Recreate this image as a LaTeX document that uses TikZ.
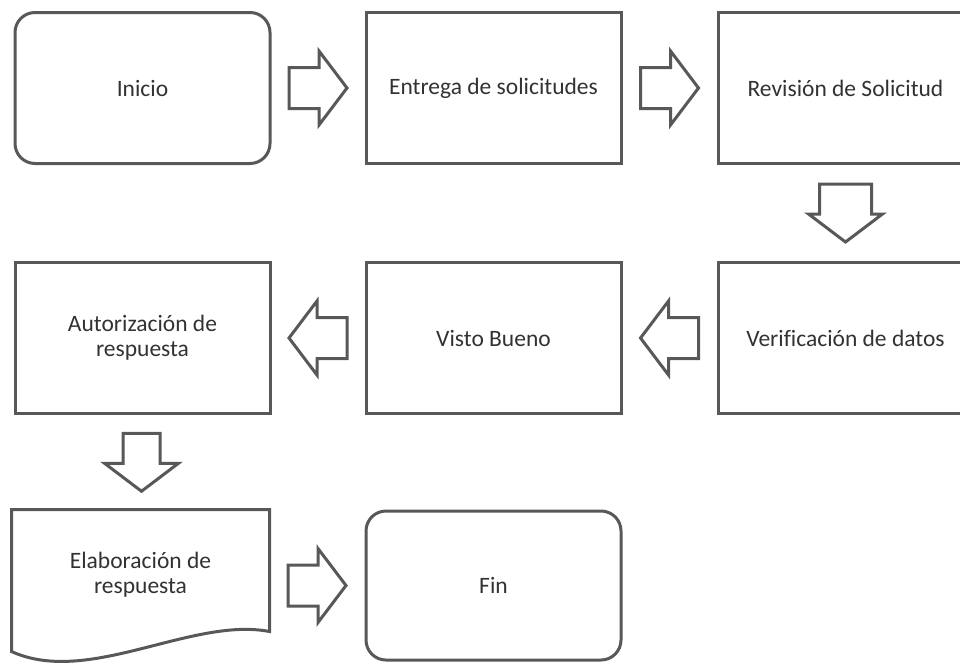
\documentclass[tikz,border=0pt]{standalone}
\usepackage{fontspec}
\setmainfont[Ligatures=NoCommon]{Carlito}
\usetikzlibrary{calc}
\definecolor{edge}{RGB}{88,88,88}
\definecolor{txt}{RGB}{50,50,50}
\tikzset{
  box/.style={draw=edge, line width=3pt, minimum width=255pt, minimum height=151pt,
    inner sep=0pt, align=center, text=txt, font=\fontsize{23.5}{25}\selectfont},
  roundbox/.style={box, rounded corners=20pt},
  plain/.style={box, draw=none},
  arrowline/.style={draw=edge, line width=3pt, line join=miter, fill=white},
  pics/barrow/.style={code={
    \draw[arrowline] (-29,-#1) -- (1,-#1) -- (1,-37) -- (29,0) -- (1,37) -- (1,#1) -- (-29,#1) -- cycle;
  }}
}
\begin{document}
\begin{tikzpicture}[x=1pt,y=-1pt]
\useasboundingbox (0,0) rectangle (960,662);
\clip (0,0) rectangle (960,662);
% row 1
\node[roundbox] (inicio) at (142.5,88) {Inicio};
\node[box] (entrega) at (493.5,88) {Entrega de solicitudes};
\node[box] (revision) at (845.5,88) {Revisión de Solicitud};
% row 2
\node[box] (verif) at (845.5,338) {Verificación de datos};
\node[box] (visto) at (493.5,338) {Visto Bueno};
\node[box] (autor) at (142.5,338) {Autorización de\\respuesta};
% row 3
\node[plain, minimum height=128pt] (elab) at (140.5,575) {Elaboración de\\respuesta};
\draw[draw=edge, line width=3pt, line join=miter]
  (elab.north west) -- (elab.north east) -- ($(elab.south east)+(0,-9)$)
  .. controls ($(elab.south east)+(-78,-24)$) and ($(elab.south west)+(77,46)$) ..
  ($(elab.south west)+(0,11)$) -- cycle;
\node[roundbox, minimum height=149pt] (fin) at (493.5,585.5) {Fin};
% block arrows
\pic at ($(inicio.east)!0.5!(entrega.west)$) {barrow=20.5};
\pic at ($(entrega.east)!0.5!(revision.west)$) {barrow=20.5};
\pic[rotate=-90] at ($(revision.south)!0.5!(verif.north)$) {barrow=26};
\pic[rotate=180] at ($(visto.east)!0.5!(verif.west)$) {barrow=20.5};
\pic[rotate=180] at ($(autor.east)!0.5!(visto.west)$) {barrow=20.5};
\pic[rotate=-90] at ($(autor.south)!0.5!(elab.north)$) {barrow=18.5};
\pic at ($(elab.east|-fin.west)!0.5!(fin.west)$) {barrow=20.5};
\end{tikzpicture}
\end{document}
